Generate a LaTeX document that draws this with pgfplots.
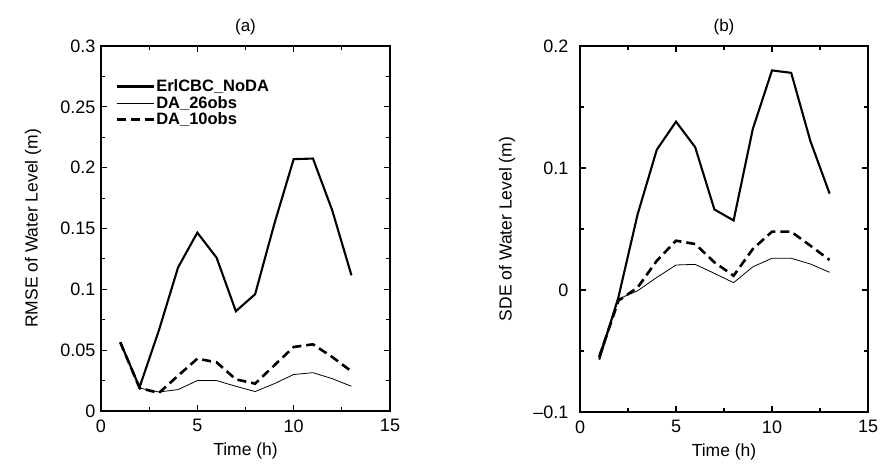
\documentclass[border=0pt]{standalone}
\usepackage{fontspec}
\setmainfont{Liberation Sans}
\usepackage{pgfplots}
\pgfplotsset{compat=1.18}
\usepackage{pgfplotstable}

\pgfplotstableread{
t noda da26 da10
1 0.0565 0.0565 0.0565
2 0.0195 0.0189 0.0190
3 0.066 0.0156 0.0148
4 0.118 0.0176 0.029
5 0.1466 0.025 0.043
6 0.126 0.025 0.040
7 0.082 0.0203 0.026
8 0.096 0.016 0.0225
9 0.154 0.0225 0.0376
10 0.207 0.030 0.0526
11 0.2075 0.0315 0.0548
12 0.165 0.0266 0.0444
13 0.1115 0.0203 0.0326
}\rmse

\pgfplotstableread{
t noda da26 da10
1 -0.057 -0.053 -0.055
2 -0.006 -0.0074 -0.0088
3 0.062 -0.0006 0.002
4 0.115 0.0103 0.024
5 0.138 0.0205 0.0404
6 0.117 0.021 0.0377
7 0.066 0.0136 0.0227
8 0.057 0.006 0.0117
9 0.132 0.019 0.0336
10 0.180 0.026 0.0478
11 0.178 0.026 0.0478
12 0.122 0.0213 0.0363
13 0.079 0.0145 0.0246
}\sde

\pgfplotsset{
  myaxis/.style={
    scale only axis,
    anchor=south west,
    xmin=0, xmax=15,
    xtick={0,5,10,15},
    minor x tick num=1,
    minor y tick num=1,
    tick align=inside,
    major tick length=6pt,
    minor tick length=4pt,
    axis line style={line width=1.3pt},
    every tick/.style={line width=1.1pt, black},
    tick label style={font=\fontsize{18}{21}\selectfont},
    xticklabel style={yshift=-5pt},
    yticklabel style={xshift=-2pt},
    label style={font=\fontsize{17.5}{21}\selectfont},
    title style={font=\fontsize{17}{20}\selectfont, at={(axis description cs:0.5,1)}, anchor=south, yshift=1pt},
    xlabel={Time (h)},
    xlabel style={at={(axis description cs:0.5,-0.11)}, anchor=center},
    /pgf/number format/assume math mode=true,
    clip=false,
  },
  noda/.style={black, line width=2.1pt},
  da26/.style={black, line width=0.8pt},
  da10/.style={black, line width=2.6pt, dash pattern=on 9pt off 5pt},
}

\begin{document}
\begin{tikzpicture}[x=1pt,y=1pt]
\useasboundingbox (0,0) rectangle (888,463);
\begin{axis}[myaxis,
  at={(101pt,52pt)}, width=289pt, height=365pt,
  ymin=0, ymax=0.3,
  ytick={0,0.05,0.1,0.15,0.2,0.25,0.3},
  yticklabels={0,0.05,0.1,0.15,0.2,0.25,0.3},
  title={(a)},
  ylabel={RMSE of Water Level (m)},
  ylabel style={at={(axis description cs:-0.235,0.5)}, anchor=center},
  legend style={draw=none, fill=none, at={(axis description cs:0.045,0.915)}, anchor=north west,
    font=\fontsize{16.5}{19}\selectfont\bfseries, row sep=0pt, inner sep=1pt,
    nodes={inner sep=1.5pt}},
  legend cell align=left,
  legend image code/.code={\draw[#1] (0pt,0pt) -- (37pt,0pt);},
]
\addplot[noda] table[x=t,y=noda] {\rmse};
\addlegendentry{ErlCBC\_NoDA}
\addplot[da26] table[x=t,y=da26] {\rmse};
\addlegendentry{DA\_26obs}
\addplot[da10] table[x=t,y=da10] {\rmse};
\addlegendentry{DA\_10obs}
\end{axis}

\begin{axis}[myaxis,
  at={(580pt,51pt)}, width=288pt, height=366pt,
  ymin=-0.1, ymax=0.2,
  ytick={-0.1,0,0.1,0.2},
  yticklabels={--0.1,0,0.1,0.2},
  yticklabel style={xshift=-6pt},
  title={(b)},
  ylabel={SDE of Water Level (m)},
  ylabel style={at={(axis description cs:-0.253,0.5)}, anchor=center},
]
\addplot[noda] table[x=t,y=noda] {\sde};
\addplot[da26] table[x=t,y=da26] {\sde};
\addplot[da10] table[x=t,y=da10] {\sde};
\end{axis}
\end{tikzpicture}
\end{document}
